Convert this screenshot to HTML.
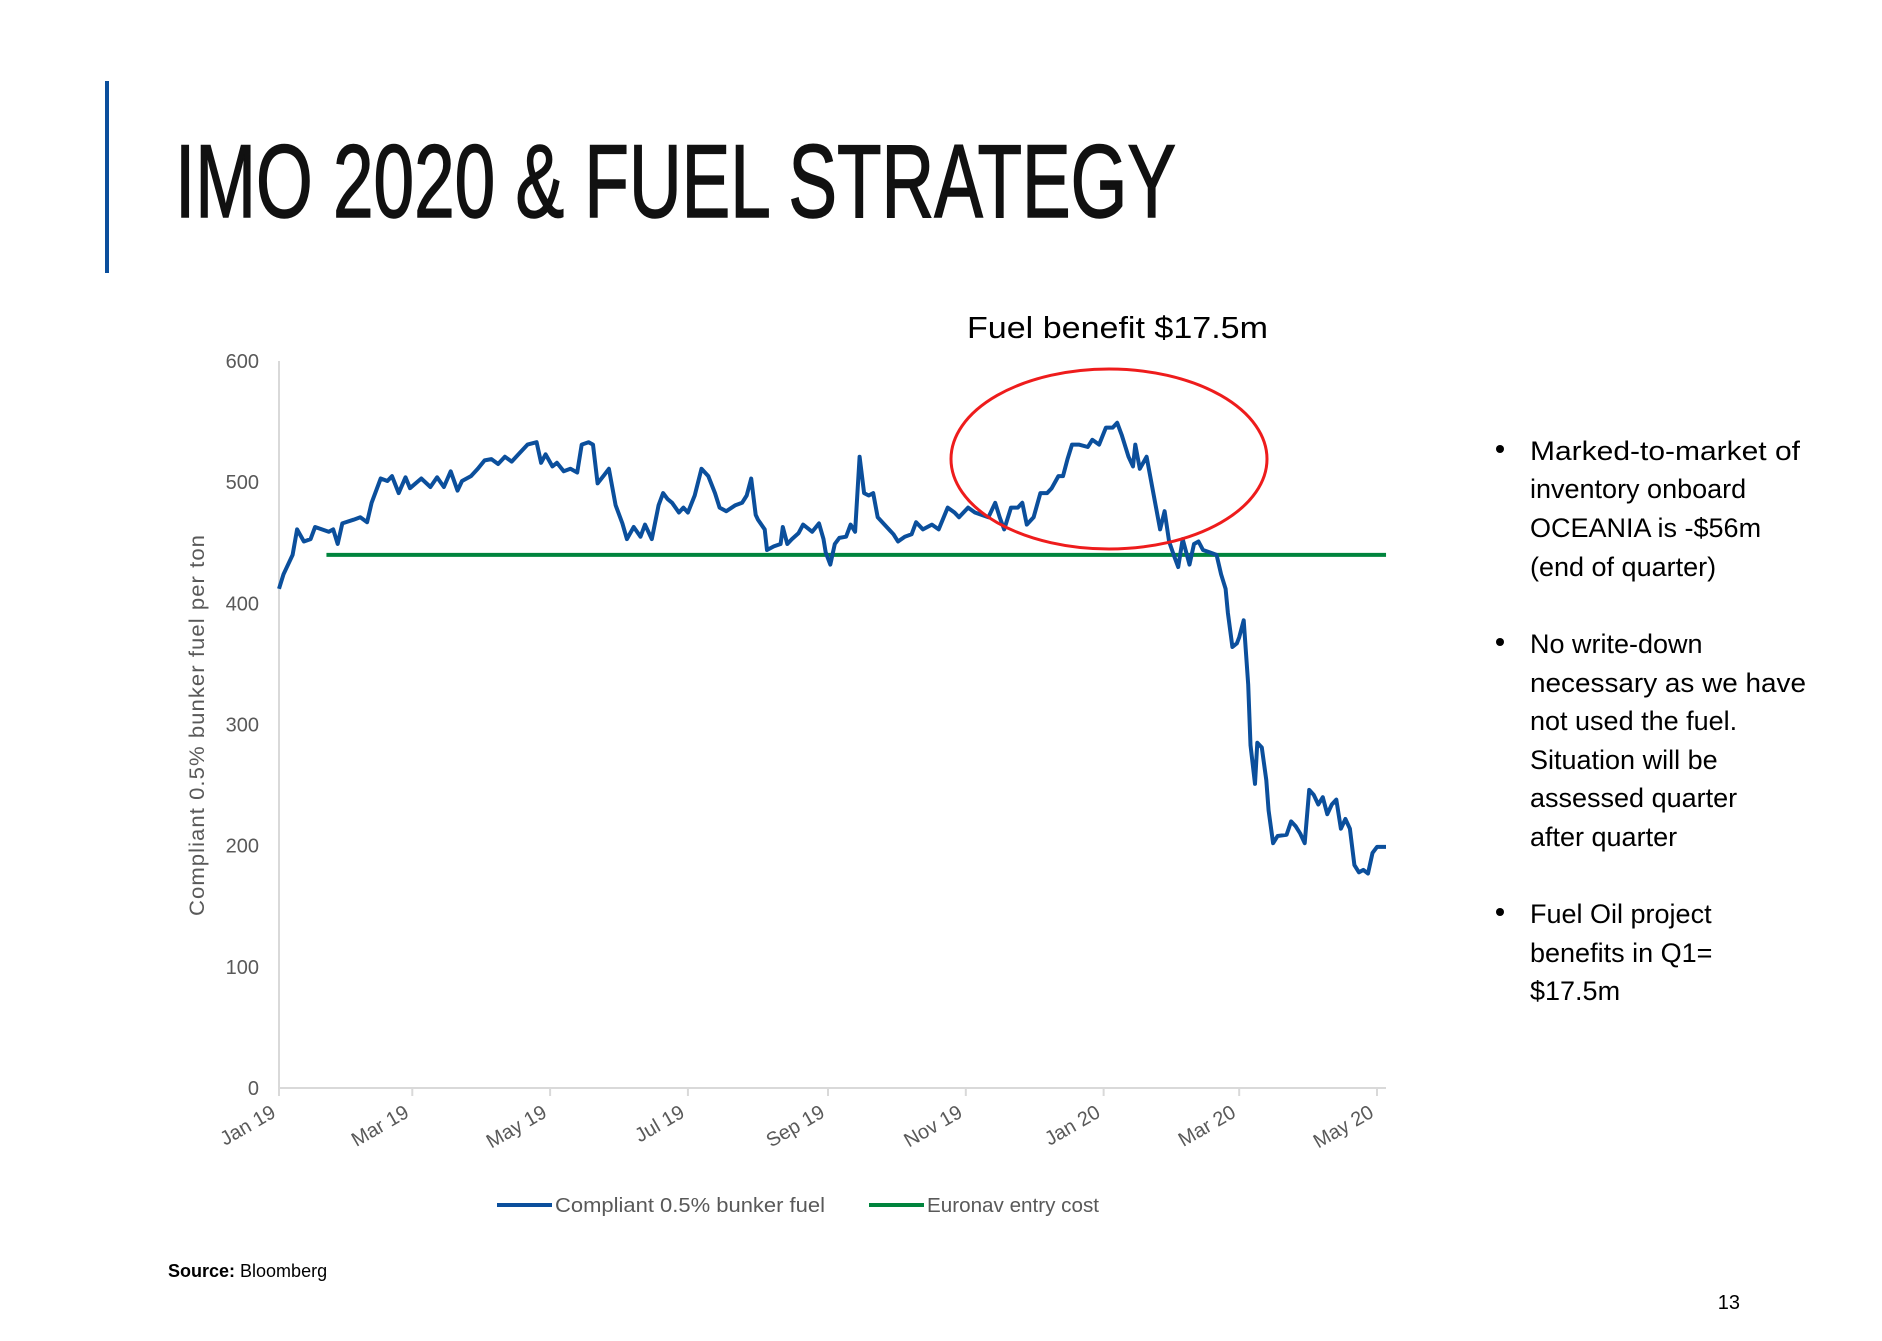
<!DOCTYPE html>
<html><head><meta charset="utf-8"><style>
html,body{margin:0;padding:0;background:#fff;}
svg{display:block;font-family:"Liberation Sans",sans-serif;}
</style></head><body>
<svg id="slide" width="1882" height="1341" viewBox="0 0 1882 1341" xmlns="http://www.w3.org/2000/svg">
<rect x="0" y="0" width="1882" height="1341" fill="#fff"/>
<rect x="105" y="81" width="4" height="192" fill="#0b4f9c"/>
<text x="175" y="217" font-family="'Liberation Sans Narrow','Liberation Sans',sans-serif" font-size="104" fill="#111" stroke="#111" stroke-width="1.5" textLength="1001" lengthAdjust="spacingAndGlyphs">IMO 2020 &amp; FUEL STRATEGY</text>
<text x="967" y="338" font-size="31" fill="#000" textLength="301" lengthAdjust="spacingAndGlyphs">Fuel benefit $17.5m</text>
<g id="chart"></g>
<g font-size="27" fill="#000">
<circle cx="1500" cy="449" r="4" fill="#000"/>
<text x="1530" y="460" textLength="270" lengthAdjust="spacingAndGlyphs">Marked-to-market of</text>
<text x="1530" y="498">inventory onboard</text>
<text x="1530" y="537">OCEANIA is -$56m</text>
<text x="1530" y="576">(end of quarter)</text>
<circle cx="1500" cy="642" r="4" fill="#000"/>
<text x="1530" y="653">No write-down</text>
<text x="1530" y="692" textLength="276" lengthAdjust="spacingAndGlyphs">necessary as we have</text>
<text x="1530" y="730">not used the fuel.</text>
<text x="1530" y="769">Situation will be</text>
<text x="1530" y="807">assessed quarter</text>
<text x="1530" y="846">after quarter</text>
<circle cx="1500" cy="912" r="4" fill="#000"/>
<text x="1530" y="923">Fuel Oil project</text>
<text x="1530" y="962">benefits in Q1=</text>
<text x="1530" y="1000">$17.5m</text>
</g>
<text x="168" y="1277" font-size="18" fill="#000"><tspan font-weight="bold">Source:</tspan> Bloomberg</text>
<text x="1740" y="1309" font-size="20" fill="#000" text-anchor="end">13</text>
</svg>
<script>
const yTicks = [0, 100, 200, 300, 400, 500, 600];
const monthLabels = ["Jan 19","Mar 19","May 19","Jul 19","Sep 19","Nov 19","Jan 20","Mar 20","May 20"];
const monthDays = [0, 59, 120, 181, 243, 304, 365, 425, 486];
const entryCost = 440;
const entryStartDay = 21;
const lastDay = 490;
const bunkerDays = [0,2,6,8,11,14,16,19,22,24,26,28,33,36,39,41,45,48,50,53,56,58,63,67,70,73,76,79,81,85,88,91,94,97,100,103,106,110,114,116,118,121,123,126,129,132,134,137,139,141,144,146,149,152,154,157,160,162,165,168,170,172,174,177,179,181,184,187,190,193,195,198,202,205,207,209,211,212,215,216,219,222,223,225,227,230,232,236,239,241,242,244,246,248,251,253,255,257,259,261,263,265,268,272,274,277,280,282,285,289,292,296,299,301,305,308,311,314,317,319,321,324,327,329,331,334,337,340,342,345,347,349,351,354,358,360,363,366,369,371,373,376,378,379,381,384,386,388,390,392,394,396,398,400,403,405,407,409,412,415,417,419,420,422,424,425,427,429,430,432,433,435,437,438,440,442,446,448,450,452,454,456,458,460,462,464,466,468,470,472,474,476,478,480,482,484,486,490];
const bunkerValues = [412,424,440,461,451,453,463,461,459,461,449,466,469,471,467,483,503,501,505,491,504,495,503,496,504,496,509,493,501,505,511,518,519,515,521,517,523,531,533,516,523,513,516,509,511,508,531,533,531,499,506,511,481,466,453,463,455,465,453,481,491,486,483,475,479,475,489,511,505,491,479,476,481,483,489,503,473,469,461,444,447,449,463,449,453,458,465,459,466,453,442,432,449,454,455,465,459,521,491,489,491,471,465,457,451,455,457,467,461,465,461,479,475,471,479,475,473,471,483,471,461,479,479,483,465,471,491,491,495,505,505,519,531,531,529,535,531,545,545,549,539,521,513,531,511,521,501,481,461,476,451,440,430,453,432,449,451,444,442,440,424,412,392,364,367,372,386,333,283,251,285,281,254,229,202,208,209,220,216,210,202,246,242,234,240,226,234,238,214,222,214,184,178,180,177,194,199,199];

const NS = "http://www.w3.org/2000/svg";
const chart = document.getElementById('chart');
const X0 = 279, X1 = 1386, Y0 = 1088, Y600 = 361;
const pxPerDay = (1377 - 279) / 486;
function xScale(d){ return X0 + d * pxPerDay; }
function yScale(v){ return Y0 - v * (Y0 - Y600) / 600; }
function mk(tag, attrs, parent){
  const el = document.createElementNS(NS, tag);
  for (const k in attrs) el.setAttribute(k, attrs[k]);
  (parent || chart).appendChild(el);
  return el;
}

let ax = mk('line', {x1:X0, y1:Y600, x2:X0, y2:Y0, stroke:'#d9d9d9', 'stroke-width':2});


let bx = mk('line', {x1:X0, y1:Y0, x2:X1, y2:Y0, stroke:'#d9d9d9', 'stroke-width':2});



yTicks.forEach(v => {
  const t = mk('text', {x:259, y:yScale(v)+7, 'font-size':20, fill:'#595959', 'text-anchor':'end'});
  t.textContent = v;
  
  
});

monthDays.forEach((d, i) => {
  const x = xScale(d);
  const tk = mk('line', {x1:x, y1:Y0, x2:x, y2:Y0+8, stroke:'#d9d9d9', 'stroke-width':2});
  
  
  const t = mk('text', {x:x-2, y:Y0+28, 'font-size':20, fill:'#595959', 'text-anchor':'end', transform:'rotate(-30 '+(x-2)+' '+(Y0+28)+')'});
  t.textContent = monthLabels[i];
  
  
});

const yt = mk('text', {x:0, y:0, 'font-size':21, fill:'#595959', 'text-anchor':'middle', 'letter-spacing':'1', transform:'translate(204 725) rotate(-90)', textLength:382, lengthAdjust:'spacingAndGlyphs'});
yt.textContent = 'Compliant 0.5% bunker fuel per ton';



const gl = mk('line', {x1:xScale(entryStartDay), y1:yScale(entryCost), x2:xScale(lastDay), y2:yScale(entryCost), stroke:'#00843d', 'stroke-width':4});



const pts = bunkerDays.map((d, i) => xScale(d).toFixed(1) + ',' + yScale(bunkerValues[i]).toFixed(1)).join(' ');
const pl = mk('polyline', {points:pts, fill:'none', stroke:'#0b4f9c', 'stroke-width':4, 'stroke-linejoin':'round'});



const el = mk('ellipse', {cx:1109, cy:459, rx:158, ry:90, fill:'none', stroke:'#ee1c1c', 'stroke-width':3});



const lg = mk('g', {});


const l1 = mk('line', {x1:497, y1:1205, x2:552, y2:1205, stroke:'#0b4f9c', 'stroke-width':4}, lg);


const t1 = mk('text', {x:555, y:1212, 'font-size':20, fill:'#595959', textLength:270, lengthAdjust:'spacingAndGlyphs'}, lg);
t1.textContent = 'Compliant 0.5% bunker fuel';


const l2 = mk('line', {x1:869, y1:1205, x2:924, y2:1205, stroke:'#00843d', 'stroke-width':4}, lg);


const t2 = mk('text', {x:927, y:1212, 'font-size':20, fill:'#595959', textLength:172, lengthAdjust:'spacingAndGlyphs'}, lg);
t2.textContent = 'Euronav entry cost';


</script>
</body></html>
